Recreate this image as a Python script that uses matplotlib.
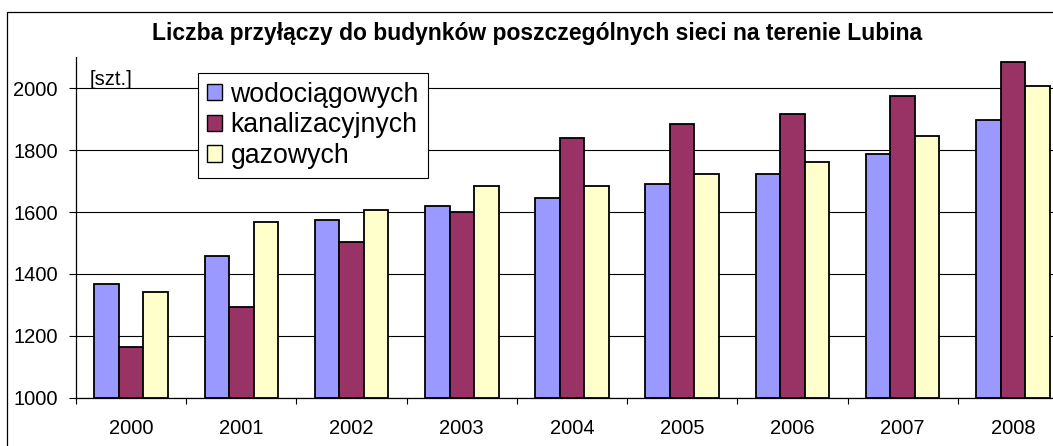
import numpy as np
import matplotlib.pyplot as plt
from matplotlib.patches import Rectangle

plt.rcParams['font.family'] = ['Liberation Sans', 'DejaVu Sans']

# Chart data
years = ["2000", "2001", "2002", "2003", "2004", "2005", "2006", "2007", "2008"]
wodociagowe = [1367, 1458, 1573, 1620, 1645, 1690, 1723, 1787, 1897]
kanalizacyjne = [1165, 1294, 1503, 1600, 1838, 1884, 1917, 1974, 2084]
gazowe = [1341, 1567, 1606, 1683, 1683, 1723, 1761, 1845, 2007]

series = [
    ("wodociągowych", wodociagowe, "#9999FF"),
    ("kanalizacyjnych", kanalizacyjne, "#993366"),
    ("gazowych", gazowe, "#FFFFCC"),
]

W, H = 1053, 446
fig = plt.figure(figsize=(W / 100, H / 100), dpi=100)

# outer chart border (right and bottom edges fall outside the picture)
fig.patches.append(Rectangle((7 / W, -0.5), 2.0, 1.5 - 12 / H, transform=fig.transFigure,
                             fill=False, edgecolor="black", linewidth=0.9))

ax = fig.add_axes([76 / W, 1 - 397.7 / H, 992 / W, 340.3 / H])

x = np.arange(len(years))
bw = 2 / 9
for k, (name, vals, col) in enumerate(series):
    ax.bar(x + (k - 1) * bw, np.array(vals) - 1000, bw, bottom=1000, color=col,
           edgecolor="black", linewidth=1.3, label=name, zorder=3)

ax.set_xlim(-0.5, len(years) - 0.5)
ax.set_ylim(1000, 2100)
ax.set_yticks(np.arange(1000, 2001, 200))
ax.yaxis.grid(True, color="black", linewidth=0.8, zorder=0)
ax.set_axisbelow(True)

ax.set_xticks(np.arange(-0.5, len(years), 1))
ax.set_xticklabels([])
ax.set_xticks(x, minor=True)
ax.set_xticklabels(years, minor=True)
ax.tick_params(axis="x", which="major", direction="out", length=4.5, width=0.8)
ax.tick_params(axis="x", which="minor", length=0, pad=15, labelsize=14.5)
ax.tick_params(axis="y", direction="out", length=5, width=0.8, pad=8, labelsize=14.5)

for s in ["top", "right"]:
    ax.spines[s].set_visible(False)
for s in ["left", "bottom"]:
    ax.spines[s].set_linewidth(0.9)
    ax.spines[s].set_zorder(4)

ax.text(0.014, 2010, "[szt.]", transform=ax.get_yaxis_transform(), fontsize=14.5,
        va="baseline", ha="left")

leg = ax.legend(loc="upper left", bbox_to_anchor=(197.7 / W, 1 - 72.7 / H),
                bbox_transform=fig.transFigure, borderaxespad=0, fontsize=19.2,
                handlelength=0.57, handleheight=0.57, handletextpad=0.33,
                labelspacing=0.18, borderpad=0.33, fancybox=False, framealpha=1,
                edgecolor="black")
leg.get_frame().set_linewidth(0.8)
leg.set_zorder(5)
for h in leg.legend_handles:
    h.set_linewidth(1.0)

fig.text(537 / W, 1 - 40 / H, "Liczba przyłączy do budynków poszczególnych sieci na terenie Lubina",
         ha="center", va="baseline", fontsize=16.5, fontweight="bold")

fig.savefig("out.png", dpi=100)
